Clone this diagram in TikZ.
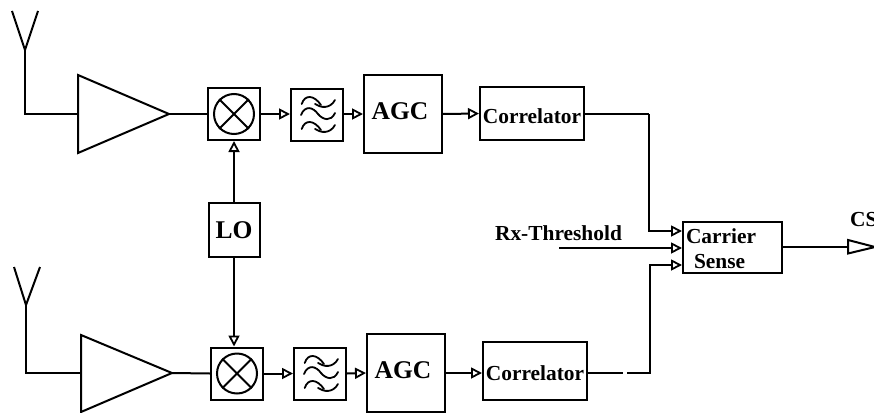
\documentclass[tikz,border=0pt]{standalone}
\usepackage{fontspec}
\setmainfont{Liberation Serif}
\usetikzlibrary{arrows.meta,calc}
\newcommand{\nudge}[3]{\hspace*{#1pt}\raisebox{#2pt}[\height][\depth]{#3}\hspace*{-#1pt}}
\tikzset{
  x=1pt,y=-1pt,
  wire/.style={line width=2pt,line join=miter},
  flow/.style={wire,-{Triangle[open,length=11pt,width=11pt,line width=1.8pt]}},
  box/.style={draw,line width=2pt,inner sep=0pt,fill=white,font=\bfseries},
  big/.style={font=\fontsize{25.5}{28}\selectfont\bfseries},
  med/.style={font=\fontsize{21.4}{26}\selectfont\bfseries},
  sq/.style={box,minimum width=52pt,minimum height=52pt},
  mixc/.style={draw,circle,line width=2pt,minimum size=40pt,inner sep=0pt},
  wave/.style={line width=1.8pt,line cap=round},
  pics/lowpass/.style={code={
    \foreach \dy in {0,25}{
      \draw[wave] (-15.3,-11+\dy) .. controls (-12,-21+\dy) and (-3,-20+\dy) .. (4,-10+\dy);
      \draw[wave] (-2,-11+\dy) .. controls (4,-7+\dy) and (13,-6+\dy) .. (18,-15+\dy);
    }
    \draw[wave] (-16,0) .. controls (-12,-10) and (-4,-8) .. (1,-1) .. controls (6,5) and (14,7) .. (18,-2);
  }}
}
\begin{document}
\begin{tikzpicture}
\useasboundingbox (0,0) rectangle (874,412);
% upper chain
\coordinate (a1tip) at (25,50);
\coordinate (a1l) at (12,11);
\coordinate (a1r) at (38,11);
\coordinate (a1foot) at (25,114);
\coordinate (amp1in) at (78,114);
\coordinate (amp1t) at (78,75);
\coordinate (amp1b) at (78,153);
\coordinate (amp1o) at (169,114);
\draw[wire] (a1l) -- (a1tip) -- (a1r);
\draw[wire] (a1tip) -- (a1foot) -- (amp1in);
\draw[wire] (amp1t) -- (amp1o) -- (amp1b) -- cycle;
\node[sq] (mix1) at (234,114) {};
\node[mixc] (c1) at (mix1.center) {};
\draw[wire] (c1.45) -- (c1.225) (c1.135) -- (c1.315);
\node[sq] (lp1) at (317,115) {};
\pic at (lp1.center) {lowpass};
\node[box,big,minimum width=78pt,minimum height=78pt] (agc1) at (403,114) {\nudge{-3}{3}{AGC}};
\node[box,med,minimum width=104pt,minimum height=53pt] (cor1) at (532,113.5) {\nudge{0}{-3}{Correlator}};
\draw[wire] (amp1o) -- (mix1.west);
\draw[flow] (mix1.east) -- (lp1.west |- mix1.east);
\draw[flow] (lp1.east |- mix1.east) -- (agc1.west);
\draw[flow] (agc1.east) -- (cor1.west);
% LO
\node[box,big,minimum width=51pt,minimum height=54pt] (lo) at (234,230) {LO};
% lower chain
\coordinate (a2tip) at (26,305);
\coordinate (a2l) at (14,267);
\coordinate (a2r) at (40,267);
\coordinate (a2foot) at (26,373);
\coordinate (amp2in) at (81,373);
\coordinate (amp2t) at (81,335);
\coordinate (amp2b) at (81,412);
\coordinate (amp2o) at (172,373);
\draw[wire] (a2l) -- (a2tip) -- (a2r);
\draw[wire] (a2tip) -- (a2foot) -- (amp2in);
\draw[wire] (amp2t) -- (amp2o) -- (amp2b) -- cycle;
\node[sq] (mix2) at (237,373.5) {};
\node[mixc] (c2) at (mix2.center) {};
\draw[wire] (c2.45) -- (c2.225) (c2.135) -- (c2.315);
\node[sq] (lp2) at (320,374) {};
\pic at (lp2.center) {lowpass};
\node[box,big,minimum width=78pt,minimum height=78pt] (agc2) at (406,373) {\nudge{-3}{3}{AGC}};
\node[box,med,minimum width=104pt,minimum height=58pt] (cor2) at (535,371) {\nudge{0}{-2}{Correlator}};
\draw[wire] (amp2o) -- (mix2.west);
\draw[flow] (mix2.east) -- (lp2.west |- mix2.east);
\draw[flow] (lp2.east |- mix2.east) -- (agc2.west);
\draw[flow] (agc2.east |- cor2.west) ++(0,2) -- ($(cor2.west)+(0,2)$);
% LO links
\draw[flow] (lo.north) -- (lo.north |- mix1.south);
\draw[flow] (lo.south) -- (lo.south |- mix2.north);
% carrier sense
\node[box,med,minimum width=99pt,minimum height=51pt,text width=93pt,align=left] (cs) at (732.5,247.5) {\raisebox{-2pt}[\height][\depth]{Carrier}\\\hspace*{8pt}\raisebox{-1pt}[\height][\depth]{Sense}};
\coordinate (r1) at (649,114);
\coordinate (r2) at (650,373);
\coordinate (gapa) at (623,373);
\coordinate (gapb) at (627,373);
\coordinate (rx) at (559,248);
\node[med,inner sep=0pt] (rxl) at (558.5,233) {Rx-Threshold};
\draw[wire] (cor1.east |- r1) -- (r1);
\draw[flow] (r1) |- (cs.west |- 0,231);
\draw[flow] (rx) -- (cs.west |- rx);
\draw[wire] (cor2.east |- r2) -- (gapa);
\draw[flow] (gapb) -- (r2) |- (cs.west |- 0,265);
% output
\coordinate (ot) at (848,240);
\coordinate (ob) at (848,253.5);
\coordinate (otip) at (875,247);
\coordinate (oin) at (848,247);
\draw[wire] (cs.east |- oin) -- (oin);
\draw[wire] (ot) -- (otip) -- (ob) -- cycle;
\node[med,anchor=west,inner sep=0pt] (csl) at (850,220) {CS};
\end{tikzpicture}
\end{document}
